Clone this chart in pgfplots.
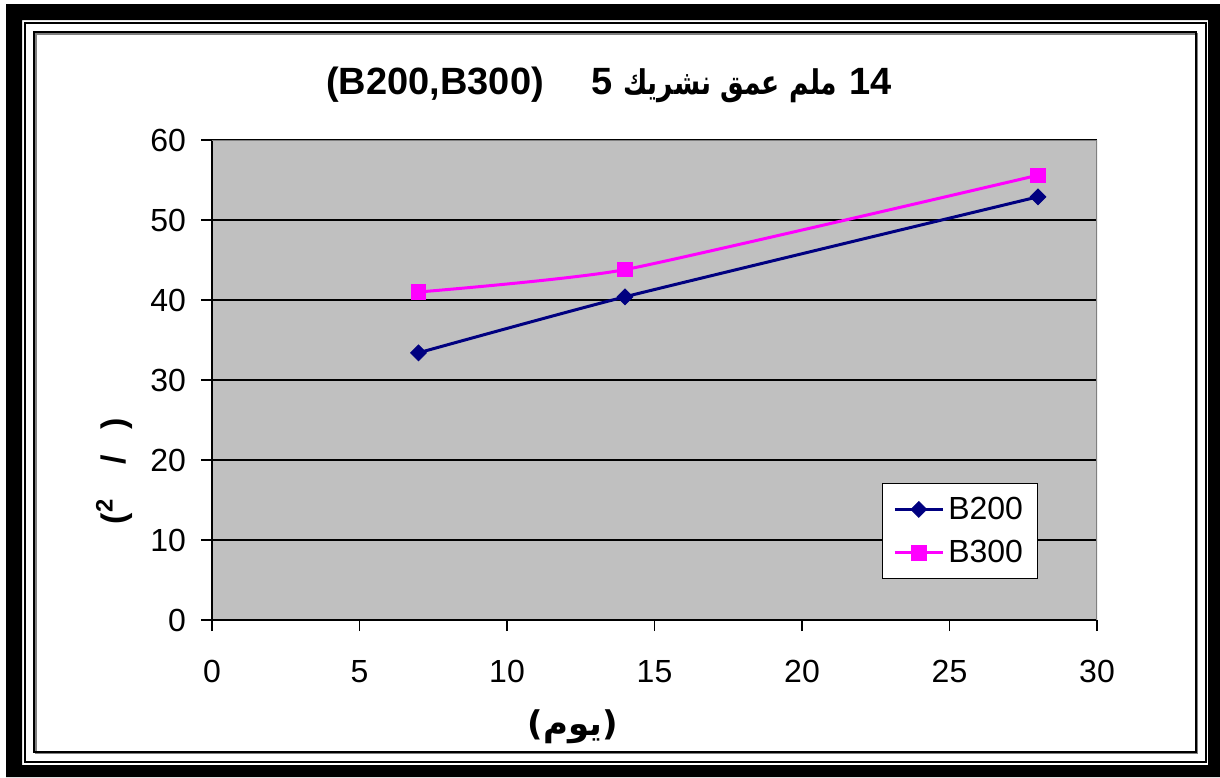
\documentclass[border=0pt]{standalone}
\usepackage{pgfplots}
\pgfplotsset{compat=1.18}
\usepackage{fontspec}
\setmainfont{Liberation Sans}
\newfontfamily\arabicfont[Script=Arabic]{DejaVu Sans}
\newfontfamily\arabicnarrow[Script=Arabic, FakeStretch=0.78]{DejaVu Sans}
\TeXXeTstate=1

\definecolor{plotgray}{HTML}{C0C0C0}
\definecolor{edgegray}{HTML}{808080}
\definecolor{seriesnavy}{HTML}{000080}
\definecolor{seriesmagenta}{HTML}{FF00FF}

\begin{document}
\begin{tikzpicture}
% page frame, in pixel-like units (origin top left, y downwards)
\begin{scope}[x=0.5pt,y=-0.5pt]
  \useasboundingbox (0,0) rectangle (1220,777);
  \fill[white] (0,0) rectangle (1220,777);
  \fill[black, even odd rule] (6,4) rectangle (1220,777) (22,20) rectangle (1208,765);
  \draw[line width=1pt] (25,23) rectangle (1206,762);
  \draw[edgegray, line width=1pt] (35.5,33.5) rectangle (1197,753);
  \draw[line width=1pt] (34,32) rectangle (1196,752);
\end{scope}

\begin{axis}[
  at={(106pt,-310pt)}, anchor=south west,
  scale only axis, width=442.5pt, height=240pt,
  xmin=0, xmax=30, ymin=0, ymax=60,
  xtick={0,5,...,30}, ytick={0,10,...,60},
  axis x line*=bottom, axis y line*=left,
  axis line style={black, line width=0.8pt},
  tick align=outside, major tick length=5.5pt,
  tick style={black, line width=0.8pt},
  axis background/.style={fill=plotgray},
  ymajorgrids, major grid style={black, line width=0.7pt},
  /pgf/number format/assume math mode=true,
  ticklabel style={font=\fontsize{16}{16}\selectfont},
  xticklabel style={yshift=-11pt},
  yticklabel style={xshift=-4pt},
  legend style={at={(0.757,0.285)}, anchor=north west,
    draw=black, fill=white, line width=0.5pt,
    font=\fontsize{16}{16}\selectfont,
    inner xsep=5.5pt, inner ysep=4.5pt, row sep=5pt},
  legend cell align=left,
  legend image code/.code={
    \draw[mark repeat=2, mark phase=2] plot coordinates {(0cm,0cm) (0.42cm,0cm) (0.84cm,0cm)};
  },
]
  \draw[edgegray, line width=0.8pt] (rel axis cs:0,1) -- (rel axis cs:1,1) -- (rel axis cs:1,0);

  \addplot[seriesnavy, line width=1.5pt, smooth, tension=0.3,
    mark=square*, mark options={rotate=45, mark size=2.8pt, line width=0.4pt, solid}]
    coordinates {(7,33.4) (14,40.4) (28,52.9)};
  \addlegendentry{B200}

  \addplot[seriesmagenta, line width=1.5pt, smooth, tension=0.3,
    mark=square*, mark options={mark size=3.6pt, line width=0.4pt, solid}]
    coordinates {(7,41.0) (14,43.8) (28,55.6)};
  \addlegendentry{B300}
\end{axis}

% title and axis titles
\node[font=\bfseries\fontsize{19}{22}\selectfont] at (304.5pt,-42.5pt)
  {(B200,B300)\hspace{24pt}5\hspace{5pt}{\arabicnarrow\fontsize{17}{22}\selectfont\beginR ملم عمق نشريك\endR}\hspace{6pt}14};
\node[rotate=90, font=\bfseries\fontsize{17}{20}\selectfont] at (57pt,-235.5pt)
  {(\textsuperscript{2}\hspace{17pt}/\hspace{13pt})};
\node[font=\bfseries\fontsize{17}{20}\selectfont] at (286.5pt,-363.5pt)
  {{\arabicfont\beginR(يوم)\endR}};
\end{tikzpicture}
\end{document}
